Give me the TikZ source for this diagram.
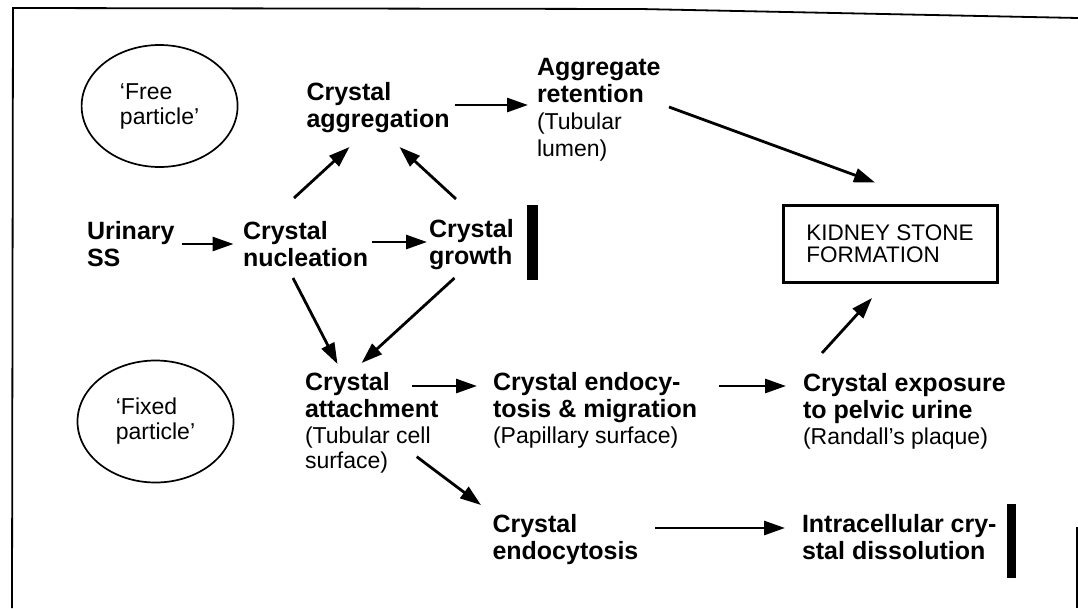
\documentclass[tikz,border=0pt]{standalone}
\usepackage{fontspec}
\setmainfont{Liberation Sans}
\usetikzlibrary{arrows.meta,calc,shapes.geometric}
\newcommand\smf{\fontsize{23}{25}\selectfont\mdseries}
\newcommand\txtblk[1]{\begin{tabular}[t]{@{}l@{}}#1\end{tabular}}
\tikzset{
  txt/.style={inner sep=0pt, outer sep=0pt, anchor=base west,
    font=\fontsize{25}{27}\selectfont\bfseries},
  arr/.style={line width=2.8pt, -{Triangle[length=21pt,width=14pt]}},
  oval/.style={draw, ellipse, line width=1.7pt, minimum width=156pt,
    minimum height=122pt, inner sep=0pt, align=left,
    font=\fontsize{23}{25}\selectfont},
  stonebox/.style={draw, line width=3pt, minimum width=214pt, minimum height=77pt,
    inner sep=0pt, align=left, font=\fontsize{22.5}{22}\selectfont},
  frame/.style={line width=1.8pt},
}
\begin{document}
\begin{tikzpicture}[x=1pt,y=-1pt]
\useasboundingbox (0,0) rectangle (1078,608);
\fill[white] (0,0) rectangle (1078,608);
% frame
\draw[frame] (1078,18) -- (640,9) -- (13,8) -- (12,608);
\draw[frame] (1077,527) -- (1077,608);
% ovals
\node[oval] (free) at (159.6,106) {‘Free\\particle’};
\node[oval] (fixed) at (155.5,421.5) {‘Fixed\\particle’};
% text nodes
\node[txt] (agg) at (306.5,100) {\txtblk{Crystal\\aggregation}};
\node[txt] (ret) at (537,75) {\txtblk{Aggregate\\retention\\ \smf (Tubular\\ \smf lumen)}};
\node[txt] (urin) at (87,239) {\txtblk{Urinary\\SS}};
\node[txt] (nuc) at (243,239) {\txtblk{Crystal\\nucleation}};
\node[txt] (gro) at (429,237) {\txtblk{Crystal\\growth}};
\node[txt] (att) at (305,390) {\txtblk{Crystal\\attachment\\[-1pt] \smf (Tubular cell\\[-2pt] \smf surface)}};
\node[txt] (mig) at (493,390) {\txtblk{Crystal endocy-\\tosis \& migration\\[-1pt] \smf (Papillary surface)}};
\node[txt] (exp) at (803,391) {\txtblk{Crystal exposure\\to pelvic urine\\[-1pt] \smf (Randall’s plaque)}};
\node[txt] (endo) at (492.5,532) {\txtblk{Crystal\\endocytosis}};
\node[txt] (dis) at (802,532) {\txtblk{Intracellular cry-\\stal dissolution}};
\node[stonebox] (kid) at (890,243.5) {KIDNEY STONE\\FORMATION};
% bars
\fill (527,205) rectangle (538,280);
\fill (1006.5,504) rectangle (1016,578);
% arrows
\draw[arr] ($(urin.base west)+(94.5,5)$) -- ($(nuc.base west)+(-9.5,5)$);
\draw[arr] ($(nuc.base west)+(129,3)$) -- ($(gro.base west)+(-2,5)$);
\draw[arr] ($(nuc.base west)+(51,-41)$) -- ($(agg.base west)+(43,47)$);
\draw[arr] ($(gro.base west)+(27,-38)$) -- ($(agg.base west)+(93,47)$);
\draw[arr] ($(agg.base west)+(148,5)$) -- ($(ret.base west)+(-9,30)$);
\draw[arr] ($(ret.base west)+(132,32)$) -- ($(kid.north)+(-15,-21)$);
\draw[arr] ($(nuc.base west)+(50,39)$) -- ($(att.base west)+(32.5,-26)$);
\draw[arr] ($(gro.base west)+(25.5,41)$) -- ($(att.base west)+(56.6,-27)$);
\draw[arr] ($(att.base west)+(106.5,-4)$) -- ($(mig.base west)+(-16,-4)$);
\draw[arr] ($(mig.base west)+(226,-4)$) -- ($(exp.base west)+(-17,-5)$);
\draw[arr] ($(exp.base west)+(19,-38)$) -- ($(kid.south)+(-18,14.5)$);
\draw[arr] ($(att.base west)+(111.7,66.7)$) -- ($(endo.base west)+(-11.5,-27)$);
\draw[arr] ($(endo.base west)+(162.5,-4)$) -- ($(dis.base west)+(-17,-4)$);
\end{tikzpicture}
\end{document}
